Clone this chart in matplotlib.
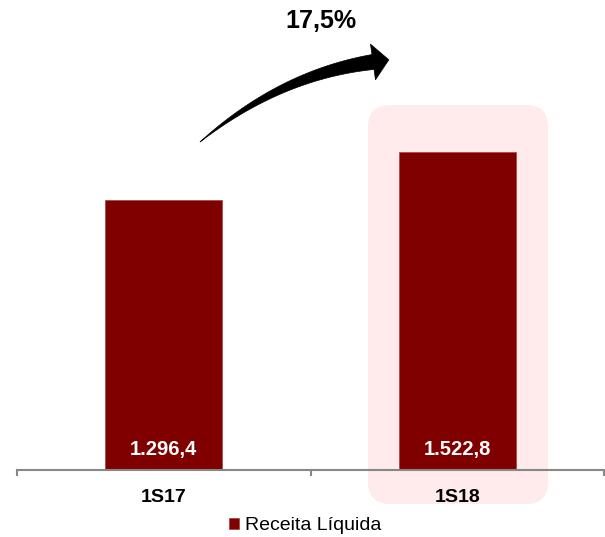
import matplotlib.pyplot as plt
import numpy as np
from matplotlib.patches import FancyBboxPatch, Polygon

plt.rcParams['font.family'] = ['Liberation Sans', 'DejaVu Sans']

categories = ["1S17", "1S18"]
values = [1296.4, 1522.8]
value_labels = ["1.296,4", "1.522,8"]
growth_label = "17,5%"
series_name = "Receita Líquida"

W, H = 605, 537
fig = plt.figure(figsize=(W / 100, H / 100), dpi=100)

# overlay in pixel coords for the highlight box and the growth arrow
bg = fig.add_axes([0, 0, 1, 1], zorder=0)
bg.set_xlim(0, W)
bg.set_ylim(H, 0)
bg.axis("off")

box = FancyBboxPatch((368, 105), 180, 399, boxstyle="round,pad=0,rounding_size=22",
                     facecolor="#ffebeb", edgecolor="none")
bg.add_patch(box)

# tapered curved arrow (quadratic bezier)
p0, p1, p2 = np.array([200, 142.]), np.array([280, 75.]), np.array([373, 62.])
t = np.linspace(0, 1, 60)[:, None]
pts = (1 - t) ** 2 * p0 + 2 * (1 - t) * t * p1 + t ** 2 * p2
der = 2 * (1 - t) * (p1 - p0) + 2 * t * (p2 - p1)
tang = der / np.linalg.norm(der, axis=1)[:, None]
norm = np.column_stack([-tang[:, 1], tang[:, 0]])
half = 7.5 * t[:, 0] ** 0.9
upper = pts + norm * half[:, None]
lower = pts - norm * half[:, None]
te, ne = tang[-1], norm[-1]
head = [p2 + ne * 18, p2 + te * 16, p2 - ne * 18]
outline = np.vstack([upper, head, lower[::-1]])
bg.add_patch(Polygon(outline, closed=True, facecolor="black", edgecolor="black", lw=0.5))

ax = fig.add_axes([17 / W, (H - 470) / H, 587 / W, 417 / H], zorder=1)
ax.patch.set_alpha(0)
x = np.arange(len(categories))
bars = ax.bar(x, values, width=0.4, color="#800000", edgecolor="#a04040", linewidth=0.5,
              label=series_name)
ax.set_xlim(-0.5, 1.5)
ax.set_ylim(0, 2000)

for xi, lab in zip(x, value_labels):
    ax.annotate(lab, xy=(xi, 0), xytext=(0, 21), textcoords="offset pixels",
                ha="center", va="center", color="white", fontsize=14.5, fontweight="bold")

for s in ["top", "right", "left"]:
    ax.spines[s].set_visible(False)
ax.spines["bottom"].set_color("#878787")
ax.spines["bottom"].set_linewidth(1.5)
ax.set_yticks([])
ax.set_xticks([-0.5, 0.5, 1.5])
ax.set_xticklabels([])
ax.tick_params(axis="x", which="major", length=4.5, width=1.5, color="#878787")
ax.set_xticks(x, minor=True)
ax.set_xticklabels(categories, minor=True, fontsize=14, fontweight="bold")
ax.tick_params(axis="x", which="minor", length=0, pad=13.5)

fig.text(321 / W, 1 - 21 / H, growth_label, ha="center", va="center",
         fontsize=18, fontweight="bold")

fig.legend(handles=[bars], labels=[series_name], loc="center",
           bbox_to_anchor=(305 / W, 1 - 526 / H), frameon=False, fontsize=14,
           handlelength=0.55, handleheight=0.55, handletextpad=0.3)

fig.savefig("out.png", dpi=100)
